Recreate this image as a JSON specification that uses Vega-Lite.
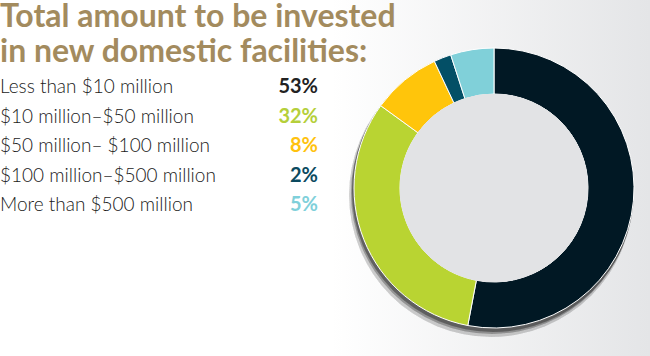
{
  "$schema": "https://vega.github.io/schema/vega-lite/v6.json",
  "padding": 0,
  "autosize": {"type": "fit", "contains": "padding"},
  "width": 650,
  "height": 356,
  "background": "#ffffff",
  "view": {
    "stroke": null,
    "fill": {"gradient": "linear", "x1": 0, "y1": 0, "x2": 1, "y2": 0, "stops": [{"offset": 0, "color": "#ffffff"}, {"offset": 0.51, "color": "#ffffff"}, {"offset": 1, "color": "#e4e5e7"}]}
  },
  "datasets": {
    "shares": [
      {"order": 1, "category": "Less than $10 million", "pct": "53%", "value": 53},
      {"order": 2, "category": "$10 million–$50 million", "pct": "32%", "value": 32},
      {"order": 3, "category": "$50 million– $100 million", "pct": "8%", "value": 8},
      {"order": 4, "category": "$100 million–$500 million", "pct": "2%", "value": 2},
      {"order": 5, "category": "More than $500 million", "pct": "5%", "value": 5}
    ],
    "heading": [
      {"line": 1, "text": "Total amount to be invested"},
      {"line": 2, "text": "in new domestic facilities:"}
    ]
  },
  "layer": [
    {
      "data": {"name": "shares"},
      "encoding": {
        "x": {"datum": 1, "type": "quantitative", "scale": {"domain": [0, 1], "range": [0, 494]}, "axis": null},
        "y": {"datum": 1, "type": "quantitative", "scale": {"domain": [0, 1], "range": [0, 188]}, "axis": null}
      },
      "layer": [
        {"mark": {"type": "arc", "theta": 0, "theta2": 6.2832, "outerRadius": 142, "fill": "#000000", "opacity": 0.04, "yOffset": 7, "xOffset": -3}},
        {"mark": {"type": "arc", "theta": 0, "theta2": 6.2832, "outerRadius": 141, "fill": "#000000", "opacity": 0.06, "yOffset": 5, "xOffset": -2}},
        {"mark": {"type": "arc", "theta": 0, "theta2": 6.2832, "outerRadius": 141, "fill": "#000000", "opacity": 0.08, "yOffset": 3, "xOffset": -1}},
        {
          "mark": {"type": "arc", "outerRadius": 140, "innerRadius": 94, "stroke": "#ffffff", "strokeWidth": 1},
          "encoding": {
            "theta": {"field": "value", "type": "quantitative", "stack": true},
            "order": {"field": "order", "type": "quantitative"},
            "color": {
              "field": "category",
              "type": "nominal",
              "scale": {"domain": ["Less than $10 million", "$10 million–$50 million", "$50 million– $100 million", "$100 million–$500 million", "More than $500 million"], "range": ["#011824", "#b9d432", "#ffc50b", "#034f66", "#80d0d9"]},
              "legend": null
            }
          }
        },
        {"mark": {"type": "arc", "theta": 0, "theta2": 6.2832, "outerRadius": 94, "fill": "#e2e3e5"}}
      ]
    },
    {
      "data": {"name": "heading"},
      "mark": {"type": "text", "align": "left", "baseline": "alphabetic", "font": "Lato", "fontSize": 32, "fontWeight": "bold", "color": "#a38b5e"},
      "encoding": {
        "x": {"datum": 0, "type": "quantitative", "scale": {"domain": [0, 1], "range": [0, 1]}, "axis": null},
        "y": {"field": "line", "type": "ordinal", "scale": {"type": "point", "padding": 0, "range": [27, 62]}, "axis": null},
        "text": {"field": "text"}
      }
    },
    {
      "data": {"name": "shares"},
      "mark": {"type": "text", "align": "left", "baseline": "middle", "font": "Lato", "fontSize": 19, "fontWeight": 300, "color": "#1a1a1a"},
      "encoding": {
        "x": {"datum": 0, "type": "quantitative", "scale": {"domain": [0, 1], "range": [0, 1]}, "axis": null},
        "y": {"field": "category", "type": "ordinal", "sort": {"field": "order"}, "scale": {"type": "point", "padding": 0, "range": [87, 205]}, "axis": null},
        "text": {"field": "category"}
      }
    },
    {
      "data": {"name": "shares"},
      "mark": {"type": "text", "align": "right", "baseline": "middle", "font": "Lato", "fontSize": 20, "fontWeight": "bold"},
      "encoding": {
        "x": {"datum": 1, "type": "quantitative", "scale": {"domain": [0, 1], "range": [0, 318]}, "axis": null},
        "y": {"field": "category", "type": "ordinal", "sort": {"field": "order"}, "scale": {"type": "point", "padding": 0, "range": [87, 205]}, "axis": null},
        "text": {"field": "pct"},
        "color": {
          "field": "category",
          "type": "nominal",
          "scale": {"domain": ["Less than $10 million", "$10 million–$50 million", "$50 million– $100 million", "$100 million–$500 million", "More than $500 million"], "range": ["#222222", "#b5cf3a", "#ffc20e", "#0b4a5f", "#7fd0da"]},
          "legend": null
        }
      }
    }
  ],
  "resolve": {"scale": {"x": "independent", "y": "independent", "color": "independent"}}
}
